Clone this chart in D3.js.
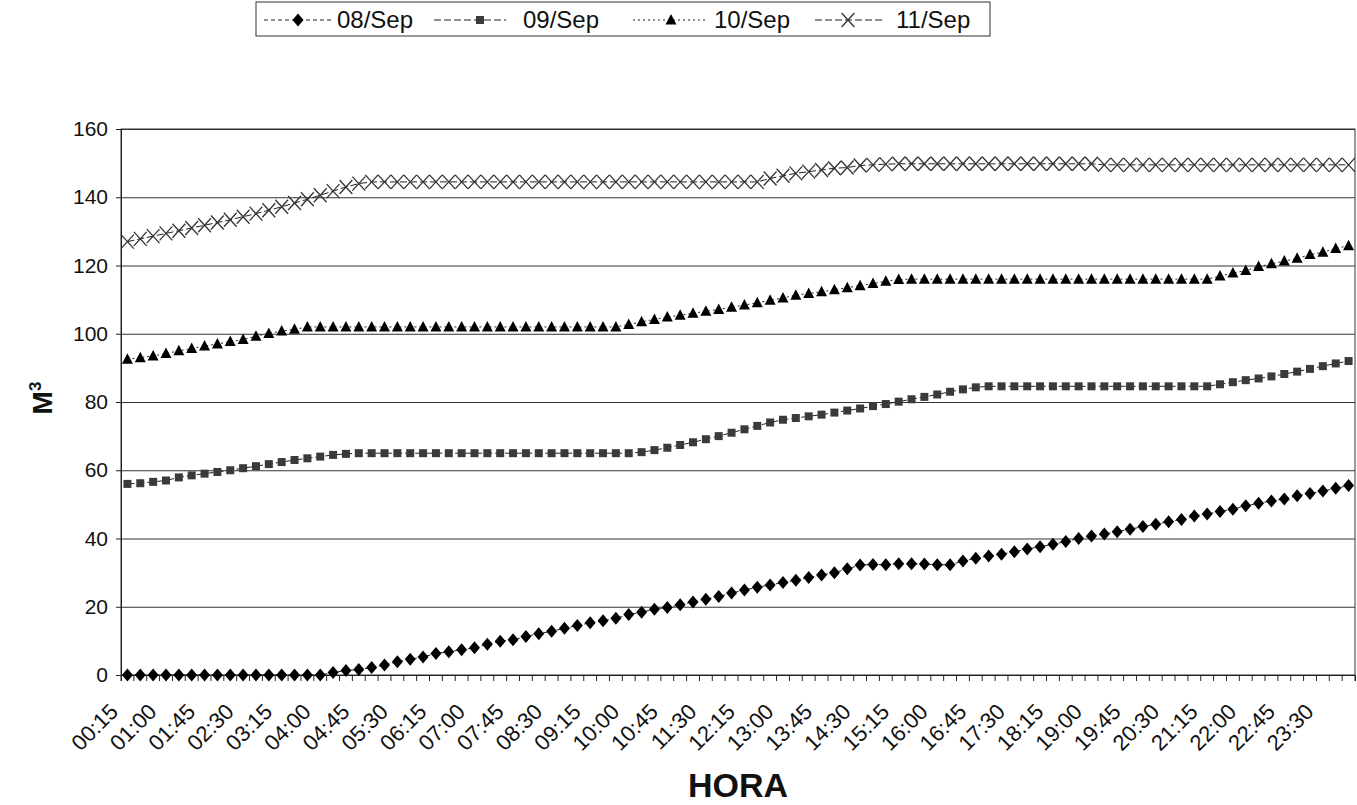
<!DOCTYPE html>
<html><head><meta charset="utf-8">
<script src="https://cdn.jsdelivr.net/npm/d3@7"></script>
<style>body{margin:0;background:#fff} svg{display:block;font-family:"Liberation Sans",Arial,sans-serif}</style>
</head><body><svg id="c" width="1357" height="805"></svg>
<script>
const categories = ["00:15","00:30","00:45","01:00","01:15","01:30","01:45","02:00","02:15","02:30","02:45","03:00","03:15","03:30","03:45","04:00","04:15","04:30","04:45","05:00","05:15","05:30","05:45","06:00","06:15","06:30","06:45","07:00","07:15","07:30","07:45","08:00","08:15","08:30","08:45","09:00","09:15","09:30","09:45","10:00","10:15","10:30","10:45","11:00","11:15","11:30","11:45","12:00","12:15","12:30","12:45","13:00","13:15","13:30","13:45","14:00","14:15","14:30","14:45","15:00","15:15","15:30","15:45","16:00","16:15","16:30","16:45","17:00","17:15","17:30","17:45","18:00","18:15","18:30","18:45","19:00","19:15","19:30","19:45","20:00","20:15","20:30","20:45","21:00","21:15","21:30","21:45","22:00","22:15","22:30","22:45","23:00","23:15","23:30","23:45","24:00"];
const tickLabels = ["00:15","01:00","01:45","02:30","03:15","04:00","04:45","05:30","06:15","07:00","07:45","08:30","09:15","10:00","10:45","11:30","12:15","13:00","13:45","14:30","15:15","16:00","16:45","17:30","18:15","19:00","19:45","20:30","21:15","22:00","22:45","23:30"];
const yTicks = [0,20,40,60,80,100,120,140,160];
const seriesNames = ["08/Sep","09/Sep","10/Sep","11/Sep"];
const sep08 = [0,0,0,0,0,0,0,0,0,0,0,0,0,0,0,0,
 0.7,1.3,1.6,2.2,2.9,3.9,4.6,5.3,6.3,6.8,
 7.4,8,9,9.9,10.3,11.3,12.1,12.8,13.7,14.5,
 15.3,15.9,16.6,17.7,18.4,19.3,19.8,20.6,21.4,22.2,
 23,24,
 24.9,25.7,26.4,27.1,27.8,28.6,29.3,30,31.1,32.2,
 32.4,32.3,32.6,32.6,32.5,32.3,32.3,33.4,34.2,34.9,
 35.4,36.1,36.9,37.6,38.3,39.1,40,40.7,41.3,42,
 42.7,43.5,44.2,44.9,45.6,46.6,47.2,47.9,48.6,49.6,
 50.3,51,51.6,52.5,53.2,53.9,54.7,55.5];
const sep09 = [56,56.2,56.6,57,57.9,58.5,59,59.5,60,
 60.6,61.2,61.8,62.4,63,63.5,64,64.5,64.8,
 65,65,65,65,65,65,65,65,65,65,65,65,65,65,65,65,65,65,65,65,65,65,
 65.3,65.9,66.6,67.4,68.2,69.1,70,71,72,73,74,
 74.8,75.3,75.8,76.3,76.9,77.5,78.1,78.8,79.4,80.1,80.8,81.5,82.2,83,83.7,84.3,
 84.6,84.6,84.6,84.6,84.6,84.6,84.6,84.6,84.6,84.6,84.6,84.6,84.6,84.6,84.6,84.6,84.6,84.6,
 85.2,85.8,86.4,86.9,87.5,88.2,88.9,89.7,90.5,91.3,92];
const sep10 = [92.5,93,93.5,94.2,95,95.7,96.4,97,97.7,98.3,99.3,100.1,100.8,101.3,102,
 102,102,102,102,102,102,102,102,102,102,102,102,102,102,102,102,102,102,102,102,102,102,102,102,
 102.7,103.5,104.2,104.9,105.4,106,106.6,107.1,107.8,
 108.4,109.1,109.8,110.5,111.3,111.8,112.3,112.9,113.5,114.1,114.7,115.4,115.9,
 116,116,116,116,116,116,116,116,116,116,116,116,116,116,116,116,116,116,116,116,116,116,116,116,
 116.9,117.8,118.5,119.7,120.5,121.3,122.1,123.2,123.9,125,125.8];
const sep11 = [127,127.8,128.6,129.4,130.2,131,131.8,132.6,133.4,134.3,135.2,136.2,137.2,138.3,139.4,140.6,141.8,143,144,144.5,
 144.5,144.5,144.5,144.5,144.5,144.5,144.5,144.5,144.5,144.5,144.5,144.5,144.5,144.5,144.5,
 144.5,144.5,144.5,144.5,144.5,144.5,144.5,144.5,144.5,144.5,144.5,144.5,144.5,144.5,144.5,
 145.5,146.3,147,147.5,148,148.5,148.7,149.3,149.5,149.7,
 149.8,149.8,149.8,149.8,149.8,149.8,149.8,149.8,149.8,149.8,149.8,149.8,149.8,149.8,149.8,149.8,
 149.5,149.5,149.5,149.5,149.5,149.5,149.5,149.5,149.5,149.5,149.5,149.5,149.5,149.5,149.5,149.5,149.5,149.5,149.5,149.5];

const seriesValues = [sep08, sep09, sep10, sep11];
const styles = [
  {dash:"4,3", marker:"M0,-6.5L5.5,0L0,6.5L-5.5,0Z", fill:"#000", stroke:"none"},
  {dash:"7,3", marker:"M-4,-4H4V4H-4Z", fill:"#3a3a3a", stroke:"none"},
  {dash:"2,3", marker:"M0,-6L5.5,4.5L-5.5,4.5Z", fill:"#000", stroke:"none"},
  {dash:"7,3", marker:"M-6.4,-7L6.4,7M6.4,-7L-6.4,7", fill:"none", stroke:"#333"}
];

const svg = d3.select("#c");
const L = 121, R = 1355, T = 129, B = 675;
const x = d3.scaleBand().domain(categories).range([L, R]).padding(0);
const y = d3.scaleLinear().domain([0,160]).range([B, T]);
const cx = d => x(d) + x.bandwidth()/2;

// gridlines
svg.append("g").attr("transform",`translate(${L},0)`)
  .call(d3.axisLeft(y).tickValues(yTicks).tickSize(-(R-L)).tickFormat(""))
  .call(g=>g.select(".domain").remove())
  .call(g=>g.selectAll("line").attr("stroke","#333").attr("stroke-width",1));

// plot border
svg.append("rect").attr("x",L).attr("y",T).attr("width",R-L).attr("height",B-T)
  .attr("fill","none").attr("stroke","#333").attr("stroke-width",1);

// y axis
svg.append("g").attr("transform",`translate(${L},0)`)
  .call(d3.axisLeft(y).tickValues(yTicks).tickSize(5).tickPadding(8))
  .call(g=>g.select(".domain").attr("stroke","#222"))
  .call(g=>g.selectAll("line").attr("stroke","#222"))
  .call(g=>g.selectAll("text").attr("font-size",21).attr("fill","#111").attr("font-family","Liberation Sans, Arial, sans-serif"));

// x axis ticks at category boundaries
const xa = svg.append("g").attr("transform",`translate(0,${B})`)
  .call(d3.axisBottom(x).tickSize(6).tickFormat(""))
  .call(g=>g.select(".domain").attr("stroke","#222"));
xa.selectAll(".tick line").attr("stroke","#222").attr("transform",`translate(${-x.bandwidth()/2},0)`);
svg.append("line").attr("x1",R).attr("x2",R).attr("y1",B).attr("y2",B+6).attr("stroke","#222");

// x labels
svg.append("g").selectAll("text").data(tickLabels).join("text")
  .attr("transform", d=>`translate(${cx(d)-8},${B+38}) rotate(-45)`)
  .attr("text-anchor","end").attr("font-size",22).attr("fill","#111").text(d=>d);

// series
seriesValues.forEach((vals, si) => {
  const st = styles[si];
  const pts = vals.map((v,i)=>[cx(categories[i]), y(v)]);
  svg.append("path").attr("d", d3.line()(pts)).attr("fill","none")
    .attr("stroke","#222").attr("stroke-width",1).attr("stroke-dasharray",st.dash);
  svg.append("g").selectAll("path").data(pts).join("path")
    .attr("transform", p=>`translate(${p[0]},${p[1]})`)
    .attr("d", st.marker).attr("fill", st.fill).attr("stroke", st.stroke).attr("stroke-width",1.3);
});

// legend
const lg = svg.append("g");
lg.append("rect").attr("x",256).attr("y",2).attr("width",734).attr("height",34)
  .attr("fill","#fff").attr("stroke","#333").attr("stroke-width",1);
const legendItems = [
  {x0:264, x1:332, mx:298, tx:337},
  {x0:434, x1:506, mx:480, tx:523},
  {x0:633, x1:705, mx:671, tx:714},
  {x0:815, x1:882, mx:848, tx:896}
];
legendItems.forEach((it, si) => {
  const st = styles[si];
  lg.append("line").attr("x1",it.x0).attr("x2",it.x1).attr("y1",20).attr("y2",20)
    .attr("stroke","#222").attr("stroke-dasharray",st.dash);
  lg.append("path").attr("transform",`translate(${it.mx},20)`).attr("d",st.marker)
    .attr("fill",st.fill).attr("stroke",st.stroke).attr("stroke-width",1.3);
  lg.append("text").attr("x",it.tx).attr("y",28).attr("font-size",24).attr("fill","#111").text(seriesNames[si]);
});

// axis titles
svg.append("text").attr("x",(L+R)/2).attr("y",797).attr("text-anchor","middle")
  .attr("font-size",34).attr("font-weight","bold").attr("fill","#111").text("HORA");
const mt = svg.append("text").attr("transform","translate(52,398) rotate(-90)")
  .attr("text-anchor","middle").attr("font-size",28).attr("font-weight","bold").attr("fill","#111");
mt.append("tspan").text("M");
mt.append("tspan").attr("dy",-11).attr("font-size",17).text("3");
</script></body></html>
